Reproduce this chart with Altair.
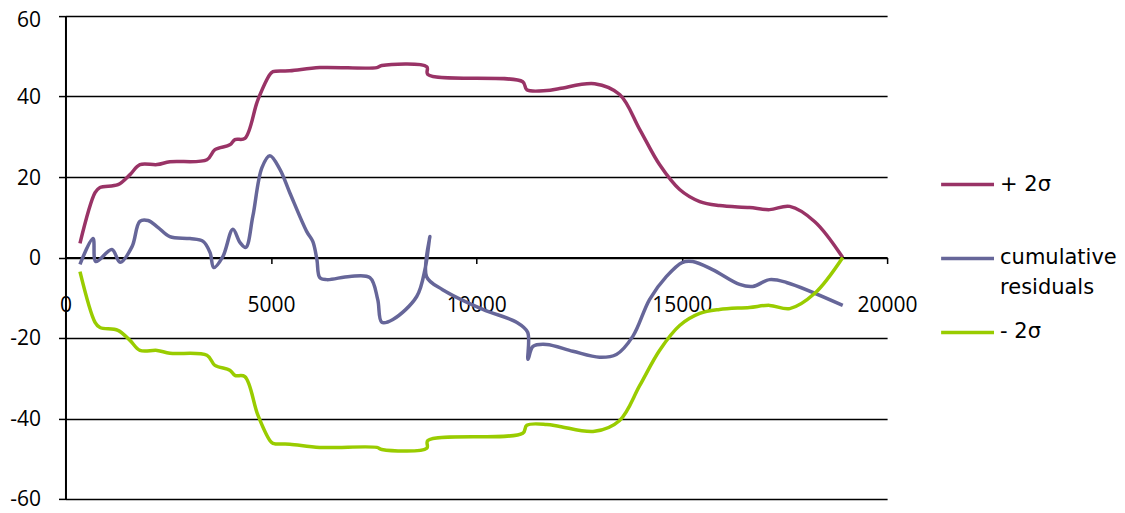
import altair as alt
import pandas as pd

series_names = ["+ 2σ", "cumulative residuals", "- 2σ"]
series_colors = ["#993366", "#666699", "#99CC00"]

plus_x = [353, 720, 840, 1277, 1570, 1813, 2230, 2543, 3443, 3638, 4000, 4124, 4367, 4684, 4976,
          5050, 5460, 6190, 7580, 7700, 8795, 8820, 11130, 11230, 11715, 12030, 12880, 13490,
          13980, 14460, 14950, 15440, 15920, 16650, 17140, 17630, 18240, 18920]
plus_y = [3.5, 16.1, 17.4, 18.1, 20.6, 23.1, 23.1, 23.8, 24.3, 26.8, 28.0, 29.3, 29.6, 39.2, 45.5,
          46.2, 46.4, 47.2, 47.2, 47.7, 47.4, 45.5, 43.7, 41.7, 41.5, 42.0, 43.2, 40.5,
          31.8, 23.1, 16.9, 13.9, 12.9, 12.4, 11.9, 12.7, 8.9, 0.0]

minus_x = [353, 720, 840, 1277, 1570, 1813, 2230, 2543, 3443, 3638, 4000, 4124, 4367, 4684, 4976,
           5050, 5460, 6190, 7580, 7700, 8795, 8820, 11130, 11230, 11715, 12030, 12880, 13490,
           13980, 14460, 14950, 15440, 15920, 16650, 17140, 17630, 18240, 18920]
minus_y = [-3.5, -16.1, -17.4, -18.1, -20.6, -23.1, -23.1, -23.8, -24.3, -26.8, -28.0, -29.3, -29.6,
           -39.2, -45.5, -46.2, -46.4, -47.2, -47.2, -47.7, -47.4, -45.5, -43.7, -41.7, -41.5,
           -42.0, -43.2, -40.5, -31.8, -23.1, -16.9, -13.9, -12.9, -12.4, -11.9, -12.7, -8.9, 0.0]

res_x = [353, 670, 740, 1130, 1330, 1620, 1810, 2010, 2250, 2540, 3030, 3350, 3520, 3610, 3830,
         4075, 4250, 4390, 4560, 4780, 4975, 5220, 5460, 5870, 6020, 6120, 6190, 6360, 6920, 7410,
         7600, 7700, 7970, 8550, 8760, 8870, 8790, 9180, 10160, 10980, 11250, 11260, 11380, 11710,
         12350, 13000, 13410, 13810, 14220, 14630, 15020, 15270, 15750, 16410, 16730, 17140,
         17550, 18920]
res_y = [-1.7, 4.7, -1.0, 2.0, -1.2, 2.7, 9.0, 9.2, 7.5, 5.2, 4.7, 4.0, 1.2, -2.5, 0.2,
         7.0, 3.7, 2.5, 10.2, 22.3, 25.3, 21.9, 16.1, 6.5, 4.0, -0.5, -5.0, -5.5, -4.7, -5.0,
         -10.4, -16.1, -15.4, -9.7, -2.5, 5.2, -4.8, -8.0, -12.9, -16.1, -18.6, -25.3, -22.1, -21.6,
         -23.3, -24.8, -24.1, -19.6, -10.4, -4.7, -1.2, -1.0, -3.0, -6.7, -7.2, -5.5,
         -6.2, -11.9]

x_ticks = [0, 5000, 10000, 15000, 20000]
y_ticks = [-60, -40, -20, 0, 20, 40, 60]

rows = []
for name, xs, ys in [(series_names[0], plus_x, plus_y),
                     (series_names[1], res_x, res_y),
                     (series_names[2], minus_x, minus_y)]:
    for i, (a, b) in enumerate(zip(xs, ys)):
        rows.append({"series": name, "x": a, "y": b, "idx": i})
df = pd.DataFrame(rows)

W, H = 822, 483

label_expr = ("datum.label == 'cumulative residuals' ? ['cumulative', 'residuals'] : "
              "datum.label == '+ 2σ' ? ['+ 2σ', ''] : datum.label")

chart = alt.Chart(df).mark_line(interpolate="catmull-rom", strokeWidth=3.5).encode(
    x=alt.X("x:Q", scale=alt.Scale(domain=[0, 20000], nice=False),
            axis=alt.Axis(values=x_ticks, labelExpr="'' + datum.value", title=None,
                          orient="bottom", offset=-H / 2, grid=False, tickSize=6,
                          labelPadding=31, labelFlush=False, labelOverlap=False)),
    y=alt.Y("y:Q", scale=alt.Scale(domain=[-60, 60], nice=False),
            axis=alt.Axis(values=y_ticks, labelExpr="'' + datum.value", title=None, grid=True,
                          tickSize=7, labelPadding=18,
                          labelOffset={"condition": {"test": "datum.value == 60", "value": 4},
                                       "value": 1},
                          labelFlush=False, labelOverlap=False)),
    color=alt.Color("series:N",
                    scale=alt.Scale(domain=series_names, range=series_colors),
                    legend=alt.Legend(title=None, orient="none", legendX=874, legendY=140,
                                      symbolType="stroke", symbolSize=2800,
                                      symbolStrokeWidth=3.5, labelFont="DejaVu Sans",
                                      labelFontSize=21, labelColor="black",
                                      labelExpr=label_expr,
                                      rowPadding=5, labelOffset=4, labelLimit=300)),
    order="idx:Q",
).properties(
    width=W, height=H,
    autosize=alt.AutoSizeParams(type="none"),
    padding={"left": 57.5, "top": 8, "right": 230, "bottom": 12},
).configure_view(stroke=None).configure_axis(
    labelFont="Open Sans", labelFontSize=21, labelColor="black",
    domainColor="black", domainWidth=2, tickColor="black", tickWidth=1.5,
    gridColor="black", gridWidth=1.5, gridOpacity=1,
)
chart.config.style = {"guide-label": {"lineHeight": 30}}

chart.save("out.html", embed_options={"renderer": "svg", "actions": False})
